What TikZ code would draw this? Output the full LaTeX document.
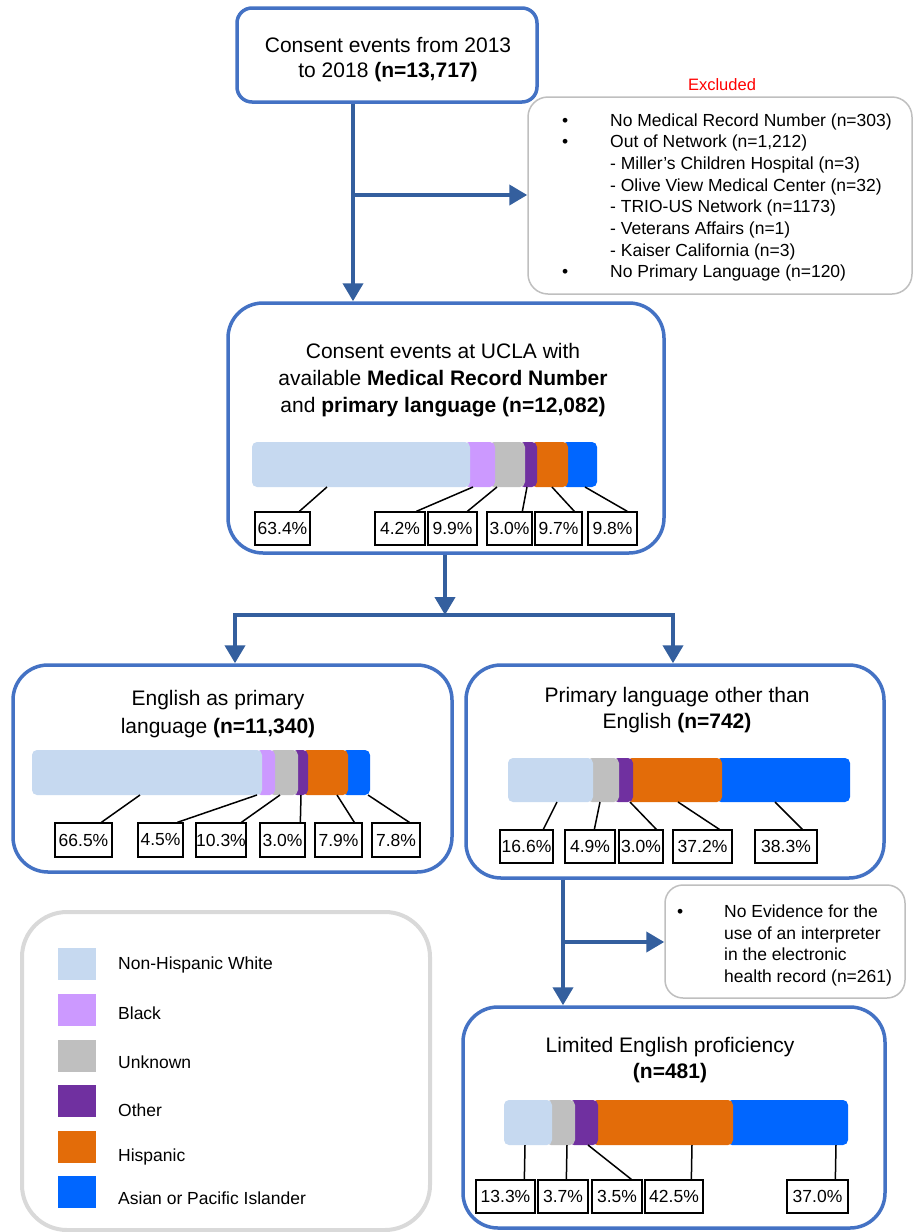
\documentclass[tikz,border=0pt]{standalone}
\usepackage{fontspec}
\setmainfont{Liberation Sans}
\usetikzlibrary{arrows.meta}
\definecolor{boxblue}{HTML}{4472C4}
\definecolor{arrowblue}{HTML}{345F9E}
\definecolor{exgray}{HTML}{BFBFBF}
\definecolor{leggray}{HTML}{D9D9D9}
\definecolor{exred}{HTML}{FF0000}
\definecolor{cWhite}{HTML}{C6D9F0}
\definecolor{cBlack}{HTML}{CC99FF}
\definecolor{cUnk}{HTML}{BFBFBF}
\definecolor{cOther}{HTML}{7030A0}
\definecolor{cHisp}{HTML}{E36C09}
\definecolor{cAsian}{HTML}{0066FF}
\begin{document}
\begin{tikzpicture}[x=1pt,y=-1pt,
  flowbox/.style={draw=boxblue, line width=3.5pt, rounded corners=30pt, inner sep=0pt},
  greybox/.style={draw=exgray, line width=1.5pt, rounded corners=20pt, inner sep=0pt},
  legbox/.style={draw=leggray, line width=4pt, rounded corners=45pt, inner sep=0pt},
  ttl/.style={align=center, inner sep=0pt, font=\fontsize{21}{27}\selectfont},
  lst/.style={align=left, anchor=west, inner sep=0pt, font=\fontsize{17.5}{21.7}\selectfont},
  pct/.style={draw=black, line width=1.3pt, inner sep=0pt, minimum height=33pt, font=\fontsize{17.5}{20}\selectfont},
  leader/.style={draw=black, line width=1.5pt},
  arr/.style={draw=arrowblue, line width=4pt, -{Triangle[width=20pt,length=18pt]}},
  seg/.style={rounded corners=5pt},
  swatch/.style={minimum width=38pt, minimum height=32pt, inner sep=0pt},
  leglbl/.style={anchor=west, inner sep=0pt, font=\fontsize{17.5}{20}\selectfont}
]
\useasboundingbox (0,0) rectangle (914,1232);
\fill[white] (0,0) rectangle (914,1232);

% ---------- boxes ----------
\node[flowbox, rounded corners=15pt, minimum width=300pt, minimum height=94pt] (top) at (387,55) {};
\node[greybox, minimum width=384pt, minimum height=197pt] (excl1) at (720,195.5) {};
\node[flowbox, rounded corners=35pt, minimum width=436pt, minimum height=250pt] (mid) at (446,428) {};
\node[flowbox, rounded corners=35pt, minimum width=439pt, minimum height=207pt] (left) at (232.5,768.5) {};
\node[flowbox, rounded corners=35pt, minimum width=418pt, minimum height=213pt] (right) at (675,771.5) {};
\node[legbox, minimum width=408pt, minimum height=318pt] (legend) at (226,1071) {};
\node[greybox, rounded corners=18pt, minimum width=240pt, minimum height=113pt] (excl2) at (785,941.5) {};
\node[flowbox, rounded corners=35pt, minimum width=422pt, minimum height=221pt] (bottom) at (674,1117.5) {};

% ---------- titles ----------
\node[ttl, font=\fontsize{21}{25}\selectfont] (ttop) at (388,60) {Consent events from 2013\\to 2018 \textbf{(n=13,717)}};
\node[inner sep=0pt, text=exred, font=\fontsize{16.5}{20}\selectfont] (exlbl) at (722,85) {Excluded};
\node[lst] (exlist) at (562,197.5) {%
\makebox[48pt][l]{•}No Medical Record Number (n=303)\\
\makebox[48pt][l]{•}Out of Network (n=1,212)\\
\hspace*{48pt}- Miller’s Children Hospital (n=3)\\
\hspace*{48pt}- Olive View Medical Center (n=32)\\
\hspace*{48pt}- TRIO-US Network (n=1173)\\
\hspace*{48pt}- Veterans Affairs (n=1)\\
\hspace*{48pt}- Kaiser California (n=3)\\
\makebox[48pt][l]{•}No Primary Language (n=120)};
\node[ttl] (tmid) at (443,380) {Consent events at UCLA with\\available \textbf{Medical Record Number}\\and \textbf{primary language (n=12,082)}};
\node[ttl, font=\fontsize{21}{28}\selectfont] (tleft) at (218,714) {English as primary\\language \textbf{(n=11,340)}};
\node[ttl, font=\fontsize{21}{26}\selectfont] (tright) at (677,710) {Primary language other than\\English \textbf{(n=742)}};
\node[ttl, font=\fontsize{21}{26}\selectfont] (tbottom) at (670,1060) {Limited English proficiency\\\textbf{(n=481)}};
\node[lst] (exlist2) at (677,945.5) {%
\makebox[47pt][l]{•}No Evidence for the\\
\hspace*{47pt}use of an interpreter\\
\hspace*{47pt}in the electronic\\
\hspace*{47pt}health record (n=261)};

% ---------- arrows ----------
\coordinate (a1) at (353,195);
\draw[arr] (top.south -| a1) -- (mid.north -| a1);
\draw[arr] (a1) -- (a1 -| excl1.west);
\coordinate (sp) at (445,615);
\coordinate (sl) at (235,615);
\coordinate (sr) at (673,615);
\draw[arr] (mid.south -| sp) -- (sp);
\draw[arr] (sp) -| (left.north -| sl);
\draw[arr] (sp) -| (right.north -| sr);
\coordinate (a3) at (563,942);
\draw[arr] (right.south -| a3) -- (bottom.north -| a3);
\draw[arr] (a3) -- (a3 -| excl2.west);

% ---------- middle bar ----------
\fill[cAsian, seg] (562,442) rectangle (597,487);
\fill[cHisp, seg] (531,442) rectangle (568,487);
\fill[cOther, seg] (519,442) rectangle (537,487);
\fill[cUnk, seg] (489,442) rectangle (525,487);
\fill[cBlack, seg] (464,442) rectangle (495,487);
\fill[cWhite, seg] (252,442) rectangle (470,487);
\node[pct, minimum width=55pt] (m1) at (282.5,528.5) {63.4\%};
\node[pct, minimum width=50pt] (m2) at (400,528.5) {4.2\%};
\node[pct, minimum width=49pt] (m3) at (452.5,528.5) {9.9\%};
\node[pct, minimum width=45pt] (m4) at (509.5,528.5) {3.0\%};
\node[pct, minimum width=47pt] (m5) at (558.5,528.5) {9.7\%};
\node[pct, minimum width=49pt] (m6) at (612.5,528.5) {9.8\%};
\coordinate (mb1) at (327,487); \coordinate (mb2) at (473,487);
\coordinate (mb3) at (497,487); \coordinate (mb4) at (527,487);
\coordinate (mb5) at (552,487); \coordinate (mb6) at (585,487);
\draw[leader] (mb1) -- ([xshift=45pt]m1.north west);
\draw[leader] (mb2) -- ([xshift=42pt]m2.north west);
\draw[leader] (mb3) -- ([xshift=40pt]m3.north west);
\draw[leader] (mb4) -- ([xshift=36pt]m4.north west);
\draw[leader] (mb5) -- ([xshift=40pt]m5.north west);
\draw[leader] (mb6) -- ([xshift=40pt]m6.north west);

% ---------- left bar ----------
\fill[cAsian, seg] (342,750) rectangle (370,795);
\fill[cHisp, seg] (302,750) rectangle (348,795);
\fill[cOther, seg] (292,750) rectangle (308,795);
\fill[cUnk, seg] (269,750) rectangle (298,795);
\fill[cBlack, seg] (256,750) rectangle (275,795);
\fill[cWhite, seg] (32,750) rectangle (262,795);
\node[pct, minimum height=34pt, minimum width=57pt] (l1) at (83.5,840) {66.5\%};
\node[pct, minimum height=34pt, minimum width=45pt] (l2) at (160.5,840) {4.5\%};
\node[pct, minimum height=34pt, minimum width=50pt] (l3) at (221,840) {10.3\%};
\node[pct, minimum height=34pt, minimum width=45pt] (l4) at (282.5,840) {3.0\%};
\node[pct, minimum height=34pt, minimum width=47pt] (l5) at (338.5,840) {7.9\%};
\node[pct, minimum height=34pt, minimum width=48pt] (l6) at (396,840) {7.8\%};
\coordinate (lb1) at (140,795); \coordinate (lb2) at (257,795);
\coordinate (lb3) at (280,795); \coordinate (lb4) at (301,795);
\coordinate (lb5) at (337,795); \coordinate (lb6) at (368,795);
\draw[leader] (lb1) -- ([xshift=47pt]l1.north west);
\draw[leader] (lb2) -- ([xshift=40pt]l2.north west);
\draw[leader] (lb3) -- ([xshift=46pt]l3.north west);
\draw[leader] (lb4) -- ([xshift=41pt]l4.north west);
\draw[leader] (lb5) -- ([xshift=40pt]l5.north west);
\draw[leader] (lb6) -- ([xshift=38pt]l6.north west);

% ---------- right bar ----------
\fill[cAsian, seg] (716,758) rectangle (850,802);
\fill[cHisp, seg] (627,758) rectangle (722,802);
\fill[cOther, seg] (613,758) rectangle (633,802);
\fill[cUnk, seg] (587,758) rectangle (619,802);
\fill[cWhite, seg] (508,758) rectangle (593,802);
\node[pct, minimum width=53pt] (r1) at (526.5,846.5) {16.6\%};
\node[pct, minimum width=50pt] (r2) at (590,846.5) {4.9\%};
\node[pct, minimum width=44pt] (r3) at (641,846.5) {3.0\%};
\node[pct, minimum width=59pt] (r4) at (702.5,846.5) {37.2\%};
\node[pct, minimum width=62pt] (r5) at (786,846.5) {38.3\%};
\coordinate (rb1) at (557,802); \coordinate (rb2) at (600,802);
\coordinate (rb3) at (630,802); \coordinate (rb4) at (678,802);
\coordinate (rb5) at (775,802);
\draw[leader] (rb1) -- ([xshift=44pt]r1.north west);
\draw[leader] (rb2) -- ([xshift=30pt]r2.north west);
\draw[leader] (rb3) -- ([xshift=38pt]r3.north west);
\draw[leader] (rb4) -- ([xshift=47pt]r4.north west);
\draw[leader] (rb5) -- ([xshift=48pt]r5.north west);

% ---------- bottom bar ----------
\fill[cAsian, seg] (727,1100) rectangle (848,1145);
\fill[cHisp, seg] (592,1100) rectangle (733,1145);
\fill[cOther, seg] (569,1100) rectangle (598,1145);
\fill[cUnk, seg] (546,1100) rectangle (575,1145);
\fill[cWhite, seg] (504,1100) rectangle (552,1145);
\node[pct, minimum width=59pt] (b1) at (505.5,1196.5) {13.3\%};
\node[pct, minimum width=50pt] (b2) at (563,1196.5) {3.7\%};
\node[pct, minimum width=50pt] (b3) at (617,1196.5) {3.5\%};
\node[pct, minimum width=58pt] (b4) at (674,1196.5) {42.5\%};
\node[pct, minimum width=61pt] (b5) at (817.5,1196.5) {37.0\%};
\coordinate (bb1) at (525,1145); \coordinate (bb2) at (567,1145);
\coordinate (bb3) at (588,1145); \coordinate (bb4) at (692,1145);
\coordinate (bb5) at (836,1145);
\draw[leader] (bb1) -- ([xshift=49pt]b1.north west);
\draw[leader] (bb2) -- ([xshift=29pt]b2.north west);
\draw[leader] (bb3) -- ([xshift=40pt]b3.north west);
\draw[leader] (bb4) -- ([xshift=47pt]b4.north west);
\draw[leader] (bb5) -- ([xshift=49pt]b5.north west);

% ---------- legend ----------
\node[swatch, fill=cWhite] (s1) at (77,964) {};
\node[swatch, fill=cBlack] (s2) at (77,1010) {};
\node[swatch, fill=cUnk] (s3) at (77,1055.5) {};
\node[swatch, fill=cOther] (s4) at (77,1101) {};
\node[swatch, fill=cHisp] (s5) at (77,1146.5) {};
\node[swatch, fill=cAsian] (s6) at (77,1192) {};
\node[leglbl] (g1) at (118,965) {Non-Hispanic White};
\node[leglbl] (g2) at (118,1013) {Black};
\node[leglbl] (g3) at (118,1062) {Unknown};
\node[leglbl] (g4) at (118,1110) {Other};
\node[leglbl] (g5) at (118,1157) {Hispanic};
\node[leglbl] (g6) at (118,1198) {Asian or Pacific Islander};
\end{tikzpicture}
\end{document}
